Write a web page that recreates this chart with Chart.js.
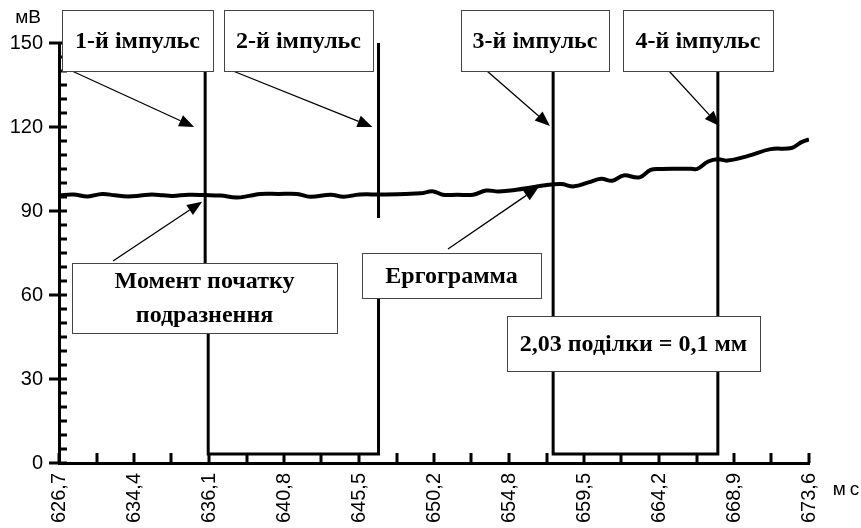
<!DOCTYPE html>
<html>
<head>
<meta charset="utf-8">
<script src="https://cdn.jsdelivr.net/npm/chart.js@4.4.0/dist/chart.umd.min.js"></script>
<style>
html, body { margin: 0; padding: 0; background: #fff; }
#wrap { width: 861px; height: 528px; }
</style>
</head>
<body>
<div id="wrap"><canvas id="chart"></canvas></div>
<script>
// tick labels as printed on the original figure
var tickLabels = ["626,7", "634,4", "636,1", "640,8", "645,5", "650,2", "654,8", "659,5", "664,2", "668,9", "673,6"];
var xMin = 626.7;
var xMax = 673.6;

// ergogram (mV vs ms)
var ergoTime = [626.7, 627.6, 628.5, 629.4, 630.2, 631.0, 631.8, 632.5, 633.2, 633.8, 634.8, 635.8, 636.8, 637.8, 638.6, 639.3, 640.4, 641.6, 642.4, 643.7, 644.5, 645.5, 646.8, 648.4, 649.3, 650.1, 650.7, 651.6, 652.6, 653.4, 654.2, 655.3, 656.3, 657.1, 658.1, 658.9, 659.8, 660.6, 661.3, 662.0, 663.0, 663.7, 664.4, 665.1, 666.2, 666.6, 667.3, 667.9, 668.5, 669.8, 671.2, 672.5, 673.1, 673.6];
var ergoValue = [95.6, 95.9, 95.2, 96.1, 95.6, 95.2, 95.5, 95.9, 95.6, 95.4, 95.8, 95.7, 95.5, 94.8, 95.4, 96.1, 96.1, 96.1, 95.1, 95.8, 95.1, 95.9, 95.9, 96.1, 96.3, 97.0, 95.8, 95.8, 95.8, 97.3, 97.0, 97.6, 98.5, 99.2, 99.6, 98.8, 100.2, 101.5, 100.8, 102.7, 102.0, 104.7, 105.0, 105.1, 105.1, 105.0, 107.7, 108.5, 108.0, 109.7, 112.1, 112.5, 114.5, 115.6];

// stimulus marks (null = break in the trace)
var stimTime = [635.84, 635.84, 636.03, 636.03, 646.68, 646.68, 646.68, 646.68, 646.68, 646.68, 657.6, 657.6, 667.9, 667.9];
var stimValue = [150, 62, 50, 3.2, 3.2, 75, null, 87.5, 150, null, 150, 3.2, 3.2, 150];

var boxes = [
  { x: 62, y: 10, w: 151, h: 61, lines: ["1-й імпульс"] },
  { x: 224, y: 10, w: 149, h: 61, lines: ["2-й імпульс"] },
  { x: 461, y: 10, w: 148, h: 61, lines: ["3-й імпульс"] },
  { x: 623, y: 10, w: 150, h: 61, lines: ["4-й імпульс"] },
  { x: 72, y: 263, w: 265, h: 70, lines: ["Момент початку", "подразнення"] },
  { x: 362, y: 253, w: 179, h: 45, lines: ["Ергограмма"] },
  { x: 507, y: 316, w: 253, h: 55, lines: ["2,03 поділки = 0,1 мм"] }
];
// arrows: start in pixels, tip in data units
var arrows = [
  { sx: 72, sy: 71, tx: 635.15, ty: 120 },
  { sx: 233, sy: 71, tx: 646.3, ty: 120 },
  { sx: 487, sy: 71, tx: 657.4, ty: 120.4 },
  { sx: 669, sy: 71, tx: 668.0, ty: 120.4 },
  { sx: 113, sy: 261, tx: 635.65, ty: 93.3 },
  { sx: 448, sy: 249, tx: 656.7, ty: 98.6 }
];

var ergoData = ergoTime.map(function (t, i) { return { x: t, y: ergoValue[i] }; });
var stimData = stimTime.map(function (t, i) { return { x: t, y: stimValue[i] }; });

var extras = {
  id: 'extras',
  afterDraw: function (chart) {
    var ctx = chart.ctx;
    var xs = chart.scales.x, ys = chart.scales.y;
    var area = chart.chartArea;
    ctx.save();
    ctx.strokeStyle = '#000';
    ctx.lineWidth = 3;
    // x ticks, pointing inward
    var step = (xMax - xMin) / 20;
    for (var i = 0; i <= 20; i++) {
      var px = Math.round(xs.getPixelForValue(xMin + i * step));
      ctx.beginPath();
      ctx.moveTo(px, area.bottom);
      ctx.lineTo(px, area.bottom - 10);
      ctx.stroke();
    }
    // y ticks: major out + in, minor inward
    for (var v = 0; v <= 150; v += 5) {
      var py = Math.round(ys.getPixelForValue(v));
      ctx.beginPath();
      if (v % 30 === 0) {
        ctx.moveTo(area.left - 10, py);
      } else {
        ctx.moveTo(area.left, py);
      }
      ctx.lineTo(area.left + 8, py);
      ctx.stroke();
    }
    // unit labels
    ctx.fillStyle = '#000';
    ctx.font = '19px "Liberation Sans", Arial, sans-serif';
    ctx.textAlign = 'center';
    ctx.textBaseline = 'middle';
    ctx.fillText('мВ', 28, 18);
    ctx.letterSpacing = '4px';
    ctx.fillText('мс', 848, 490);
    ctx.letterSpacing = '0px';

    // arrows
    ctx.lineWidth = 1.3;
    arrows.forEach(function (a) {
      var tx = xs.getPixelForValue(a.tx), ty = ys.getPixelForValue(a.ty);
      var ang = Math.atan2(ty - a.sy, tx - a.sx);
      var len = 15, wid = 6;
      var bx = tx - len * Math.cos(ang), by = ty - len * Math.sin(ang);
      ctx.beginPath();
      ctx.moveTo(a.sx, a.sy);
      ctx.lineTo(bx, by);
      ctx.stroke();
      ctx.beginPath();
      ctx.moveTo(tx, ty);
      ctx.lineTo(bx + wid * Math.sin(ang), by - wid * Math.cos(ang));
      ctx.lineTo(bx - wid * Math.sin(ang), by + wid * Math.cos(ang));
      ctx.closePath();
      ctx.fill();
    });

    // text boxes
    ctx.font = 'bold 24px "Liberation Serif", "Times New Roman", serif';
    boxes.forEach(function (b) {
      ctx.fillStyle = '#fff';
      ctx.fillRect(b.x, b.y, b.w, b.h);
      ctx.strokeStyle = '#444';
      ctx.lineWidth = 1;
      ctx.strokeRect(b.x + 0.5, b.y + 0.5, b.w, b.h);
      ctx.fillStyle = '#000';
      var lh = 34;
      var y0 = b.y + b.h / 2 - (b.lines.length - 1) * lh / 2;
      b.lines.forEach(function (t, k) {
        ctx.fillText(t, b.x + b.w / 2, y0 + k * lh + 1);
      });
    });
    ctx.restore();
  }
};

new Chart(document.getElementById('chart'), {
  type: 'line',
  data: {
    datasets: [
      {
        label: 'Ергограмма',
        data: ergoData,
        borderColor: '#000',
        borderWidth: 4,
        pointRadius: 0,
        tension: 0.4,
        fill: false
      },
      {
        label: 'Подразнення',
        data: stimData,
        borderColor: '#000',
        borderWidth: 3,
        pointRadius: 0,
        tension: 0,
        spanGaps: false,
        fill: false
      }
    ]
  },
  options: {
    responsive: true,
    maintainAspectRatio: false,
    animation: false,
    layout: { padding: { top: 43, right: 52, left: 0, bottom: 0 } },
    plugins: { legend: { display: false }, tooltip: { enabled: false } },
    scales: {
      x: {
        type: 'linear',
        min: xMin,
        max: xMax,
        afterBuildTicks: function (s) {
          var t = [];
          for (var i = 0; i <= 20; i++) t.push({ value: xMin + i * (xMax - xMin) / 20 });
          s.ticks = t;
        },
        afterFit: function (s) { s.height = 65; },
        grid: { display: true, drawOnChartArea: false, drawTicks: false },
        border: { display: true, color: '#000', width: 3 },
        ticks: {
          autoSkip: false,
          minRotation: 90,
          maxRotation: 90,
          padding: 10,
          color: '#000',
          font: { family: '"Liberation Sans", Arial, sans-serif', size: 20 },
          callback: function (value, index) {
            return index % 2 === 0 ? tickLabels[index / 2] : '';
          }
        }
      },
      y: {
        min: 0,
        max: 150,
        afterFit: function (s) { s.width = 59; },
        grid: { display: true, drawOnChartArea: false, drawTicks: false },
        border: { display: true, color: '#000', width: 3 },
        ticks: {
          stepSize: 30,
          padding: 16,
          color: '#000',
          font: { family: '"Liberation Sans", Arial, sans-serif', size: 20 }
        }
      }
    }
  },
  plugins: [extras]
});
</script>
</body>
</html>
